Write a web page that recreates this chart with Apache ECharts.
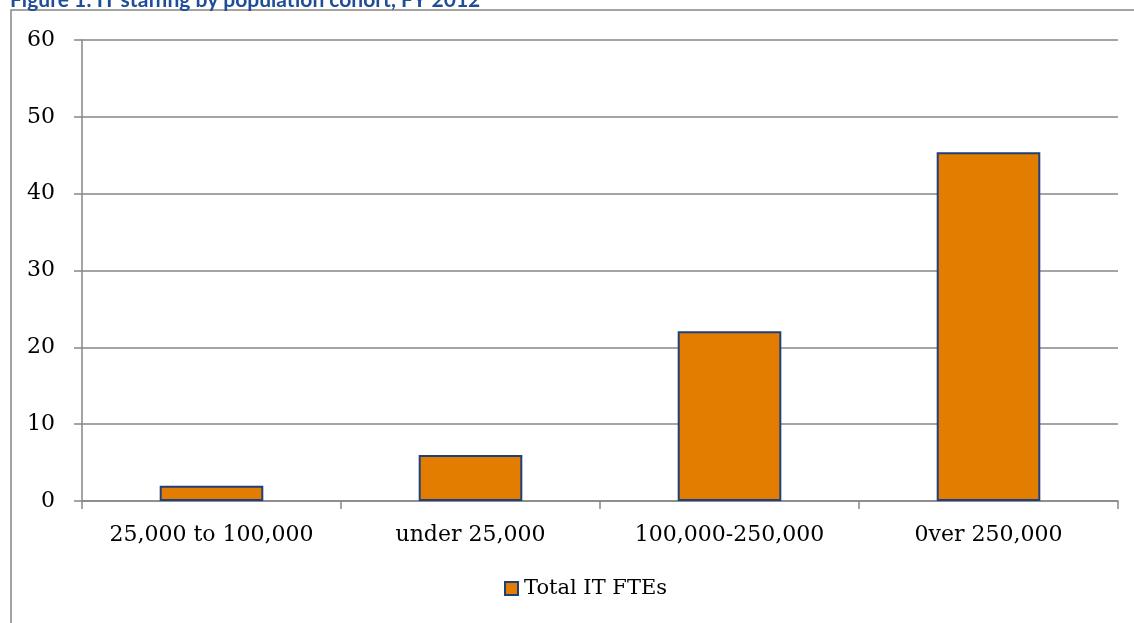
<!DOCTYPE html>
<html>
<head>
<meta charset="utf-8">
<script src="https://cdn.jsdelivr.net/npm/echarts@6/dist/echarts.min.js"></script>
<style>
html,body{margin:0;padding:0;background:#fff;}
#chart{width:1134px;height:623px;}
</style>
</head>
<body>
<div id="chart"></div>
<script>
var titleText = "Figure 1: IT staffing by population cohort, FY 2012";
var categories = ["25,000 to 100,000", "under 25,000", "100,000-250,000", "0ver 250,000"];
var seriesName = "Total IT FTEs";
var values = [2, 6, 22.1, 45.4];
var yTicks = { min: 0, max: 60, interval: 10 };

var chart = echarts.init(document.getElementById('chart'), null, { renderer: 'canvas' });
var gray = '#868686';
var font = 'DejaVu Serif';
chart.setOption({
  animation: false,
  backgroundColor: '#fff',
  graphic: [
    { type: 'rect', shape: { x: 11, y: 10, width: 1200, height: 700 }, style: { fill: 'none', stroke: gray, lineWidth: 1.5 }, z: -1 },
    { type: 'text', x: 10, y: 11, style: { text: titleText, fill: '#1F4E96', fontFamily: 'Lato', fontWeight: 'bold', fontSize: 21, verticalAlign: 'bottom' } }
  ],
  grid: { left: 82, right: 16, top: 40, bottom: 122, containLabel: false },
  legend: {
    data: [seriesName],
    left: 499, top: 573,
    itemWidth: 13, itemHeight: 13, itemGap: 10,
    textStyle: { fontFamily: font, fontSize: 21, color: '#000', padding: [0, 0, 0, 1] },
    icon: 'rect'
  },
  xAxis: {
    type: 'category',
    data: categories,
    axisLine: { lineStyle: { color: gray, width: 1.5 } },
    axisTick: { show: true, length: 8, interval: 0, lineStyle: { color: gray, width: 1.5 } },
    axisLabel: { fontFamily: font, fontSize: 22, color: '#000', margin: 23, interval: 0, hideOverlap: false }
  },
  yAxis: {
    type: 'value',
    min: yTicks.min, max: yTicks.max, interval: yTicks.interval,
    axisLine: { show: true, lineStyle: { color: gray, width: 1.5 } },
    axisTick: { show: true, length: 8, lineStyle: { color: gray, width: 1.5 } },
    splitLine: { show: true, lineStyle: { color: gray, width: 1.5 } },
    axisLabel: { fontFamily: font, fontSize: 22, color: '#000', margin: 27 }
  },
  series: [{
    name: seriesName,
    type: 'bar',
    data: values,
    barCategoryGap: '60%',
    itemStyle: { color: '#E27D00', borderColor: '#1F3F7A', borderWidth: 2 }
  }]
});
</script>
</body>
</html>
